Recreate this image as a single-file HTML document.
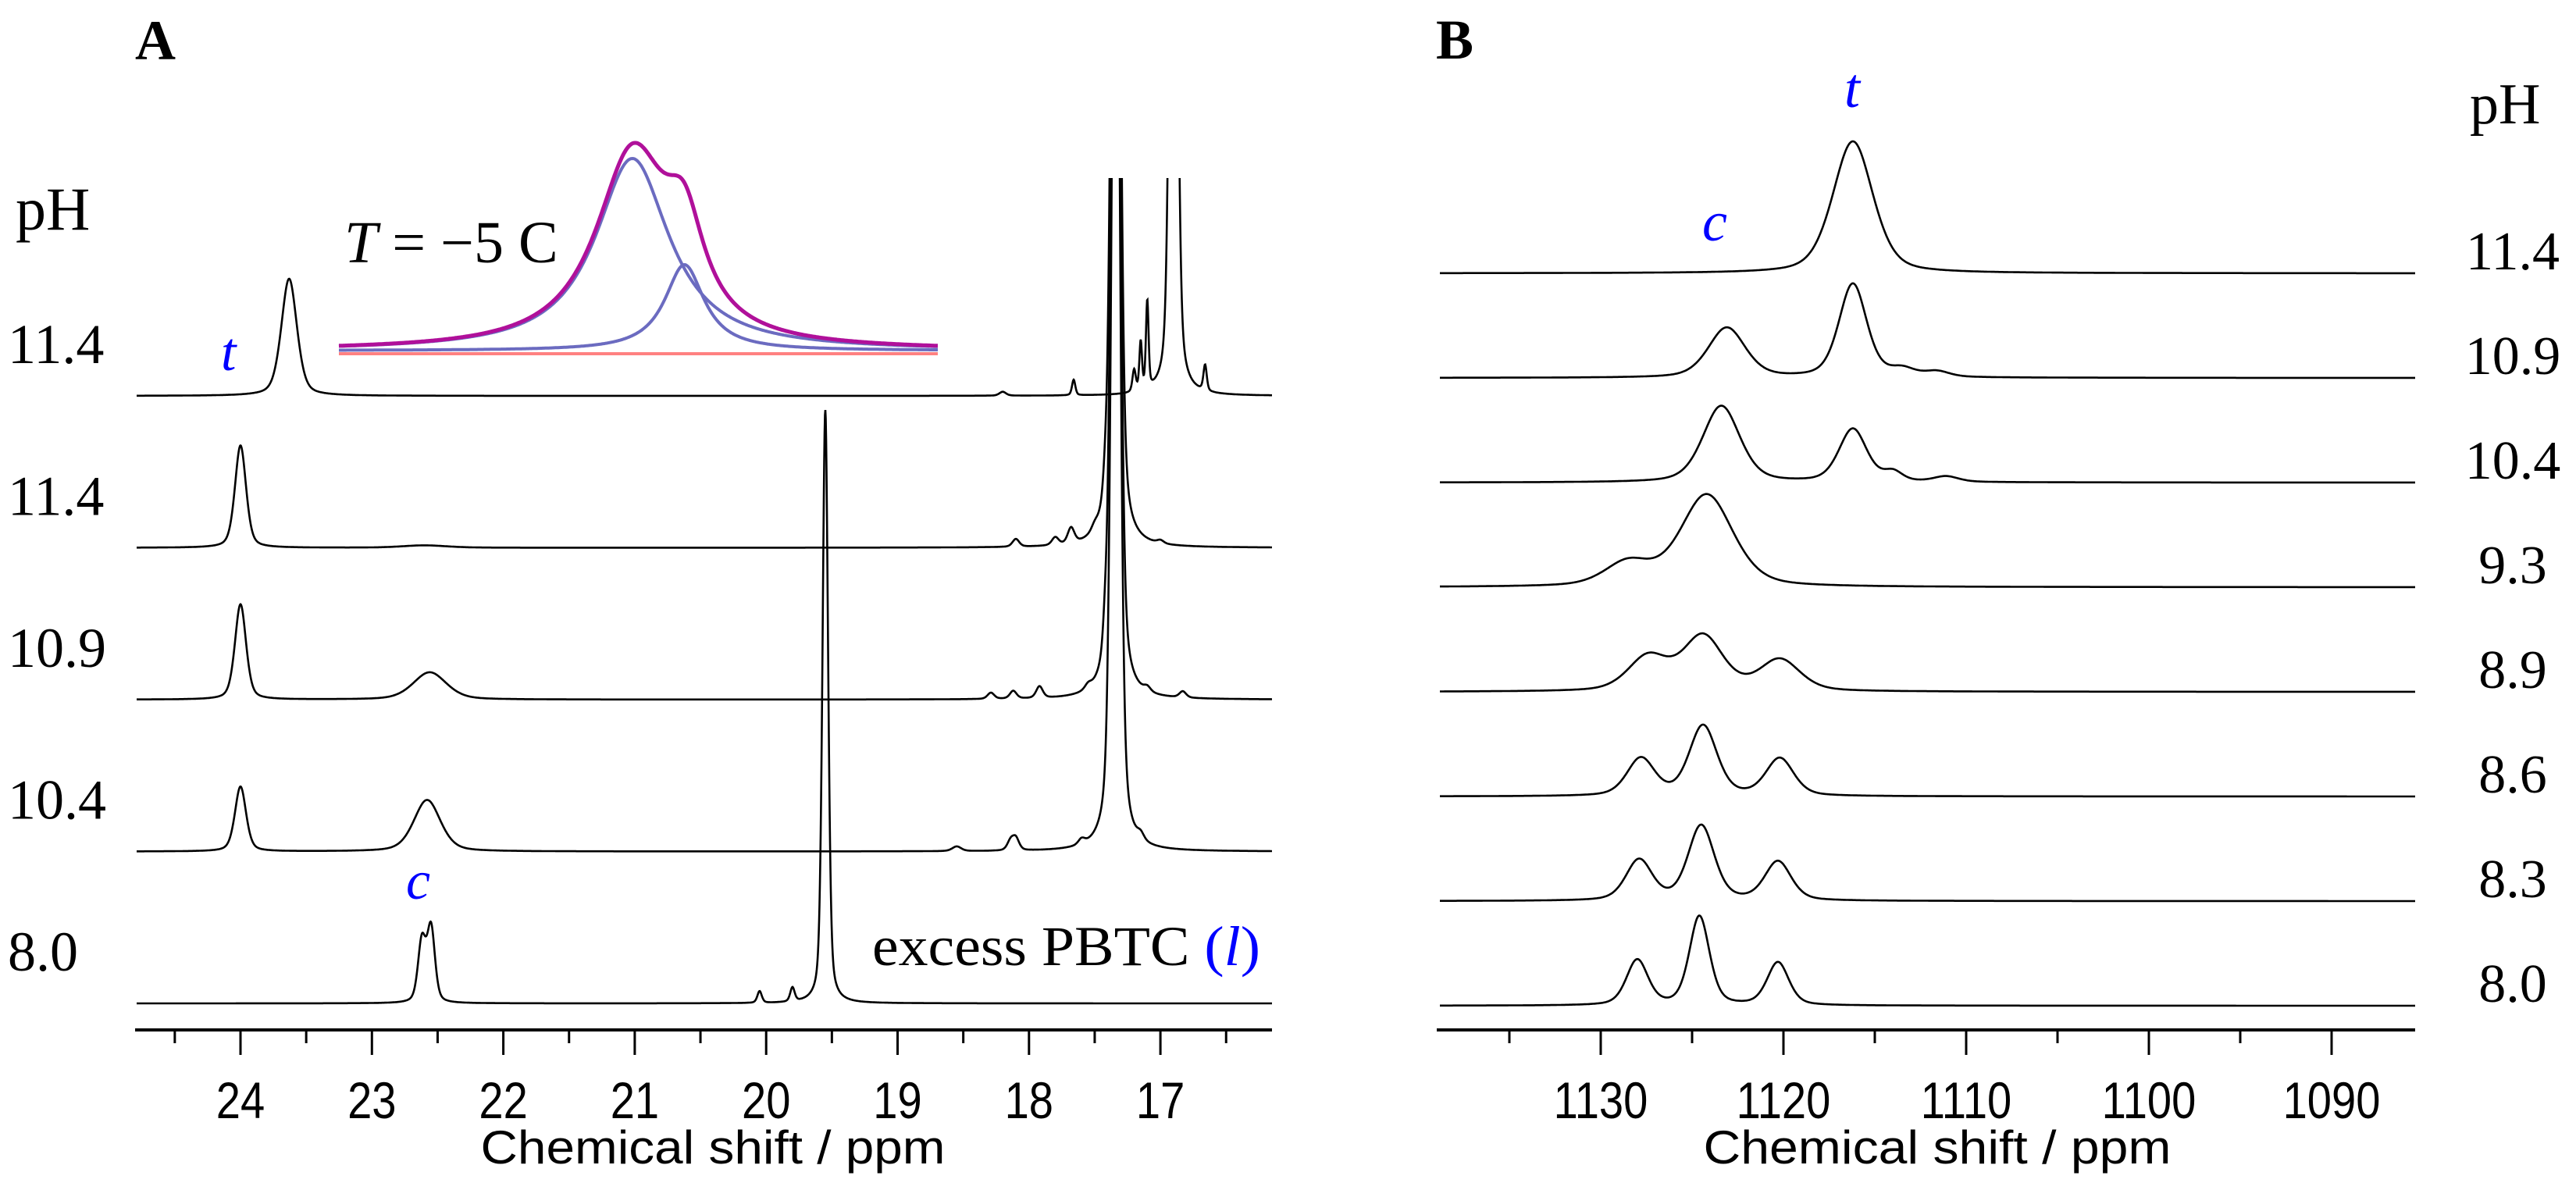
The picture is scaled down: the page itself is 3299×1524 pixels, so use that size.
<!DOCTYPE html>
<html><head><meta charset="utf-8"><style>
html,body{margin:0;padding:0;background:#fff;}
svg{display:block;}
.serif{font-family:"Liberation Serif","DejaVu Serif",serif;}
.sans{font-family:"Liberation Sans","DejaVu Sans",sans-serif;}
</style></head><body>
<svg id="fig" width="3299" height="1524" viewBox="0 0 3299 1524" xmlns="http://www.w3.org/2000/svg">
<defs><clipPath id="clipA"><rect x="160" y="228" width="1480" height="1100"/></clipPath></defs>
<g id="panelA"></g>
<g id="panelB"></g>
</svg>
<script>
// ---------- Panel A data ----------
const phLabelsA = ["11.4","11.4","10.9","10.4","8.0"];
// peaks: [ppm, height, half-width(ppm)]
const spec1A = [[23.63,150,0.07],[18.2,5,0.03],[17.66,20,0.015],[17.2,28,0.015],[17.15,62,0.012],[17.1,112,0.012],[16.90,1200,0.03],[16.66,33,0.015]];
const spec2A = [[24.0,131,0.05],[22.6,3,0.2],[18.1,10,0.03],[17.8,10,0.03],[17.68,20,0.03],[17.5,7,0.03],[17.42,25,0.02],[17.34,1500,0.035],[17.0,4,0.03]];
const spec3A = [[24.0,122,0.05],[22.56,35,0.15],[18.29,8,0.03],[18.12,10,0.03],[17.92,15,0.03],[17.55,6,0.03],[17.42,35,0.02],[17.34,1500,0.035],[17.1,6,0.03],[16.83,8,0.03]];
const spec4A = [[24.0,83,0.05],[22.58,66,0.12],[18.55,6,0.04],[18.14,12,0.03],[18.1,15,0.03],[17.6,7,0.03],[17.34,1500,0.035],[17.15,8,0.03]];
const spec5A = [[22.62,78,0.035],[22.55,95,0.035],[20.05,15,0.02],[19.8,18,0.02],[19.55,760,0.025]];
const spectraA = [spec1A,spec2A,spec3A,spec4A,spec5A];
const ticksA = [24,23,22,21,20,19,18,17];
// inset (relative x 0..1), components
const insetComp1 = [0.49,246,0.075];
const insetComp2 = [0.577,110,0.04];
// ---------- Panel B data ----------
const phLabelsB = ["11.4","10.9","10.4","9.3","8.9","8.6","8.3","8.0"];
const specB = [
 [[1116.2,169,1.3]],
 [[1123.1,64,1.2],[1116.2,120,0.9],[1113.5,10,0.8],[1111.6,7,0.8]],
 [[1123.4,98,1.2],[1116.2,68,0.9],[1114,12,0.6],[1111.1,7,0.8]],
 [[1124.2,118,1.7],[1128.5,30,1.5]],
 [[1127.4,44,1.3],[1124.4,70,1.3],[1120.2,40,1.3]],
 [[1127.8,48,0.9],[1124.4,90,0.9],[1120.2,48,0.9]],
 [[1127.9,52,0.85],[1124.5,96,0.85],[1120.3,50,0.85]],
 [[1128.0,58,0.7],[1124.6,114,0.65],[1120.3,55,0.7]]
];
const ticksB = [1130,1120,1110,1100,1090];

const NS="http://www.w3.org/2000/svg";
function mk(tag,attrs,parent){const e=document.createElementNS(NS,tag);for(const k in attrs)e.setAttribute(k,attrs[k]);parent.appendChild(e);return e;}
function lor(x,p){const d=(x-p[0])/p[2];return p[1]/(1+d*d);}
function pv(x,p){const d=(x-p[0])/p[2];return p[1]*(0.4/(1+d*d)+0.6*Math.exp(-0.6931*d*d));}

// axis functions
const xA = p => 308 + (24-p)*168.3;
const xB = p => 2050 + (1130-p)*23.4;
const A0=173, A1=1629, B0=1840, B1=3093;
const pA = px => 24-(px-308)/168.3;
const pB = px => 1130-(px-2050)/23.4;

const gA=document.getElementById('panelA');
const gB=document.getElementById('panelB');

// ---- Panel A spectra ----
spectraA.forEach((peaks,i)=>{
  const base=507+i*194.5;
  let d='';
  for(let px=A0+2;px<=A1;px+=0.5){
    const p=pA(px);let y=0;peaks.forEach(k=>{y+=pv(p,k);});
    d+=(d?'L':'M')+px+','+(base-y).toFixed(1);
  }
  const path=mk('path',{d:d,fill:'none',stroke:'#000','stroke-width':2.6,'clip-path':'url(#clipA)'},gA);
  
  
  const t=mk('text',{x:10,y:base-42,'font-size':72,class:'serif'},gA);
  t.textContent=phLabelsA[i];
  
  
});
// inset
(function(){
  const ix0=434, ix1=1201, ib=449;
  const rel = px => (px-ix0)/(ix1-ix0);
  let d1='',d2='',ds='',dr='';
  for(let px=ix0;px<=ix1;px+=1){
    const r=rel(px);const a=lor(r,insetComp1),b=lor(r,insetComp2);
    d1+=(d1?'L':'M')+px+','+(ib-a).toFixed(1);
    d2+=(d2?'L':'M')+px+','+(ib-b).toFixed(1);
    ds+=(ds?'L':'M')+px+','+(ib-a-b).toFixed(1);
    dr+=(dr?'L':'M')+px+','+(ib+4).toFixed(1);
  }
  const r=mk('path',{d:dr,fill:'none',stroke:'#ff6b6b','stroke-width':4,opacity:0.85},gA);
  
  const c1=mk('path',{d:d1,fill:'none',stroke:'#6b6bc0','stroke-width':4},gA);
  
  const c2=mk('path',{d:d2,fill:'none',stroke:'#6b6bc0','stroke-width':4},gA);
  
  const s=mk('path',{d:ds,fill:'none',stroke:'#b0109a','stroke-width':5},gA);
  
})();
// panel A axis
(function(){
  const ax=mk('line',{x1:A0,y1:1319,x2:A1,y2:1319,stroke:'#000','stroke-width':4},gA);
  
  for(let v=16.5;v<=24.5;v+=0.5){
    const major=Math.abs(v-Math.round(v))<1e-6;
    mk('line',{x1:xA(v),y1:1319,x2:xA(v),y2:major?1351:1336,stroke:'#000','stroke-width':3},gA);
  }
  ticksA.forEach(v=>{
    const t=mk('text',{transform:`translate(${xA(v)},1432) scale(0.85,1)`,'text-anchor':'middle','font-size':66,class:'sans'},gA);
    t.textContent=v;
    
    
  });
})();

// ---- Panel B spectra ----
specB.forEach((peaks,i)=>{
  const base=350+i*134;
  let d='';
  for(let px=B0+4;px<=B1;px+=1){
    const p=pB(px);let y=0;peaks.forEach(k=>{y+=pv(p,k);});
    d+=(d?'L':'M')+px+','+(base-y).toFixed(1);
  }
  const path=mk('path',{d:d,fill:'none',stroke:'#000','stroke-width':2.6},gB);
  
  
  const t=mk('text',{x:3218,y:base-5,'text-anchor':'middle','font-size':70,class:'serif'},gB);
  t.textContent=phLabelsB[i];
  
  
});
(function(){
  const ax=mk('line',{x1:B0,y1:1319,x2:B1,y2:1319,stroke:'#000','stroke-width':4},gB);
  
  for(let v=1085;v<=1135;v+=5){
    const px=xB(v); if(px<B0||px>B1) continue;
    const major=v%10===0;
    mk('line',{x1:px,y1:1319,x2:px,y2:major?1351:1336,stroke:'#000','stroke-width':3},gB);
  }
  ticksB.forEach(v=>{
    const t=mk('text',{transform:`translate(${xB(v)},1432) scale(0.85,1)`,'text-anchor':'middle','font-size':66,class:'sans'},gB);
    t.textContent=v;
    
    
  });
})();
</script>
<script>
(function(){
const svg=document.getElementById('fig');
svg.insertAdjacentHTML('beforeend',`
<text x="173" y="76" font-size="72" font-weight="bold" class="serif">A</text>
<text x="1839" y="75" font-size="72" font-weight="bold" class="serif">B</text>
<text x="20" y="294" font-size="78" class="serif">pH</text>
<text x="3163" y="158" font-size="74" class="serif">pH</text>
<text x="441" y="336" font-size="76" class="serif"><tspan font-style="italic">T</tspan> = −5 C</text>
<text x="283" y="474" font-size="70" font-style="italic" fill="#0000ff" class="serif">t</text>
<text x="520" y="1151" font-size="70" font-style="italic" fill="#0000ff" class="serif">c</text>
<text x="1117" y="1236" font-size="72" class="serif" textLength="497" lengthAdjust="spacingAndGlyphs">excess PBTC <tspan fill="#0000ff">(<tspan font-style="italic">l</tspan>)</tspan></text>
<text x="2362" y="137" font-size="72" font-style="italic" fill="#0000ff" class="serif">t</text>
<text x="2180" y="308" font-size="72" font-style="italic" fill="#0000ff" class="serif">c</text>
<text x="913" y="1490" font-size="60" text-anchor="middle" textLength="595" lengthAdjust="spacingAndGlyphs" class="sans">Chemical shift / ppm</text>
<text x="2481" y="1490" font-size="60" text-anchor="middle" textLength="599" lengthAdjust="spacingAndGlyphs" class="sans">Chemical shift / ppm</text>
`);
})();
</script>
</body></html>
